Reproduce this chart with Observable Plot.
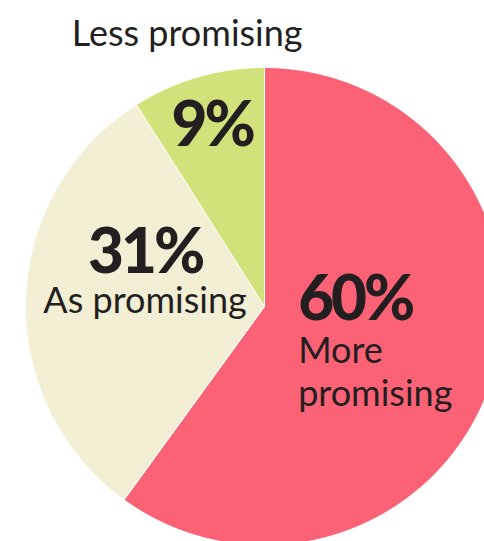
<!DOCTYPE html>
<html><head><meta charset="utf-8">
<script src="https://cdn.jsdelivr.net/npm/d3@7"></script>
<script src="https://cdn.jsdelivr.net/npm/@observablehq/plot@0.6"></script>
<style>body{margin:0;background:#fff} svg{display:block}</style>
</head><body><div id="chart"></div>
<script>
const categories = ["More promising", "As promising", "Less promising"];
const values = [60, 31, 9];
const colors = ["#fb6275", "#f2efd4", "#d2e27a"];
const percentLabels = ["60%", "31%", "9%"];
const nameLabels = ["More\npromising", "As promising", "Less promising"];

// layout (pixels)
const W = 484, H = 541, cx = 264, cy = 306, R = 239;

const arcs = d3.pie().sort(null).value(d => d)(values);

// slice outlines in units of radius (center + outer arc)
const slicePts = [];
arcs.forEach((a, i) => {
  const n = Math.max(2, Math.ceil((a.endAngle - a.startAngle) / 0.01));
  slicePts.push({cat: categories[i], x: 0, y: 0});
  for (let k = 0; k <= n; k++) {
    const t = a.startAngle + (a.endAngle - a.startAngle) * k / n;
    slicePts.push({cat: categories[i], x: Math.sin(t), y: Math.cos(t)});
  }
  slicePts.push({cat: categories[i], x: 0, y: 0});
});

// centroids at half radius
const cent = arcs.map(a => {
  const m = (a.startAngle + a.endAngle) / 2;
  return {x: 0.5 * Math.sin(m), y: 0.5 * Math.cos(m)};
});

const pctData = percentLabels.map((t, i) => ({text: t, ...cent[i]}));
const nameData = nameLabels.map((t, i) => ({text: t, ...cent[i]}));

const font = "Lato, 'Noto Sans', sans-serif";
const ink = "#231f20";

const pctOffsets = [
  {dx: -80, dy: -23, anchor: "start"},
  {dx: 0, dy: -30, anchor: "middle"},
  {dx: -19, dy: -46, anchor: "middle"}
];
const nameOffsets = [
  {dx: -80, dy: 63, anchor: "start"},
  {dx: 0, dy: 10, anchor: "middle"},
  {dx: -44, dy: -146, anchor: "middle"}
];

const marks = [
  Plot.line(slicePts, {x: "x", y: "y", z: "cat", fill: "cat", stroke: "white", strokeWidth: 1, curve: "linear"})
];
pctData.forEach((d, i) => {
  marks.push(Plot.text([d], {x: "x", y: "y", text: "text", dx: pctOffsets[i].dx, dy: pctOffsets[i].dy,
    textAnchor: pctOffsets[i].anchor, lineAnchor: "bottom", fontSize: 62, fontWeight: 900, fontFamily: font, fill: ink}));
});
nameData.forEach((d, i) => {
  marks.push(Plot.text([d], {x: "x", y: "y", text: "text", dx: nameOffsets[i].dx, dy: nameOffsets[i].dy,
    textAnchor: nameOffsets[i].anchor, lineAnchor: "bottom", lineHeight: 1.2, fontSize: 36, fontWeight: 400, fontFamily: font, fill: ink}));
});

const chart = Plot.plot({
  width: W, height: H,
  margin: 0,
  x: {domain: [-cx / R, (W - cx) / R], axis: null},
  y: {domain: [-(H - cy) / R, cy / R], axis: null},
  color: {domain: categories, range: colors},
  style: {background: "white", overflow: "hidden"},
  marks
});
// tighter, condensed look for the bold percentages
chart.querySelectorAll('g[font-weight="900"]').forEach(g => g.setAttribute("letter-spacing", "-3"));
document.getElementById("chart").append(chart);
</script>
</body></html>
